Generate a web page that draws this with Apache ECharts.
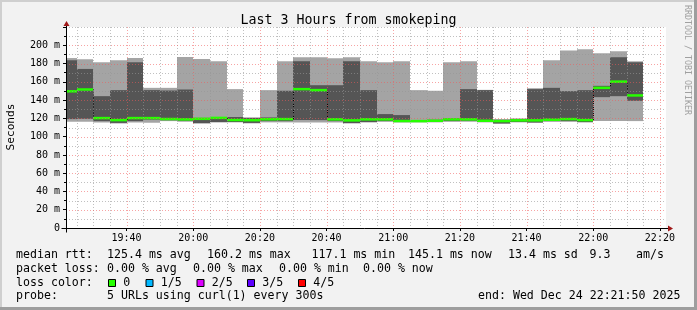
<!DOCTYPE html>
<html>
<head>
<meta charset="utf-8">
<script src="https://cdn.jsdelivr.net/npm/echarts@6.0.0/dist/echarts.min.js"></script>
<style>
html,body{margin:0;padding:0;background:#f2f2f2;}
#chart{width:697px;height:310px;}
</style>
</head>
<body>
<div id="chart"></div>
<script>
// ---------------- data ----------------
const titleText = 'Last 3 Hours from smokeping';
const yAxisName = 'Seconds';
const graphStart = '19:21:50';
const graphEnd = '22:21:50';
const stepMinutes = 5;
// end time of each 5-minute step
const stepEnd = ['19:25','19:30','19:35','19:40','19:45','19:50','19:55','20:00','20:05','20:10',
  '20:15','20:20','20:25','20:30','20:35','20:40','20:45','20:50','20:55','21:00',
  '21:05','21:10','21:15','21:20','21:25','21:30','21:35','21:40','21:45','21:50',
  '21:55','22:00','22:05','22:10','22:15'];
// sorted ping values (ms) per step: lowest, 2nd, median, 4th, highest
const pingMin = [116.3,116.3,115.5,114.3,115.6,115.2,117.0,116.3,114.5,115.6,
  115.6,114.5,115.6,115.6,115.6,115.6,115.6,114.5,115.6,116.3,
  115.6,115.6,115.6,116.3,116.3,115.6,114.0,115.6,115.0,116.3,
  116.3,115.6,117.0,117.0,117.0];
const ping2 = [119.2,119.5,117.0,115.0,117.0,118.6,118.0,117.4,114.8,116.0,
  116.0,115.0,117.0,117.0,118.1,118.1,117.0,114.8,116.0,117.0,
  116.0,116.0,116.0,117.0,117.4,116.0,114.5,116.0,115.6,117.0,
  117.0,116.0,143.2,144.3,139.2];
const median = [149.6,151.6,120.3,118.1,120.3,120.3,119.3,118.9,119.5,120.5,
  118.2,118.0,119.0,119.2,152.0,150.9,118.9,117.8,118.9,118.9,
  117.1,117.0,117.4,118.9,118.9,117.4,117.0,117.8,117.8,118.5,
  119.2,118.1,153.4,160.2,145.1];
const ping4 = [183.6,174.1,144.3,150.9,181.4,150.9,150.5,151.6,120.5,121.5,
  121.5,120.5,121.0,150.2,182.5,156.3,156.3,182.5,150.9,124.7,
  123.6,118.0,118.5,120.0,152.0,150.9,118.5,119.0,152.0,153.4,
  149.8,150.9,155.6,186.9,181.4];
const pingMax = [186.0,184.7,181.4,183.6,186.1,153.4,153.4,187.2,185.0,182.5,
  152.0,121.0,150.9,182.5,186.9,186.9,185.8,186.9,182.5,181.4,
  182.5,150.9,150.2,181.4,182.5,151.2,119.0,120.0,153.0,183.6,
  194.4,195.6,191.2,193.4,182.5];
// axis ticks
const xMajorTicks = ['19:40','20:00','20:20','20:40','21:00','21:20','21:40','22:00','22:20'];
const yMax = 220;
const yMajorTicks = [20,40,60,80,100,120,140,160,180,200];
const yMinorTicks = [10,30,50,70,90,110,130,150,170,190,210,220];
// legend texts
const legendRtt = [['median rtt:',16],['125.4 ms avg',107],['160.2 ms max',207],['117.1 ms min',311.5],['145.1 ms now',408],['13.4 ms sd',508],['9.3',589.5],['am/s',636]];
const legendLoss = [['packet loss:',16],['0.00 % avg',107],['0.00 % max',193],['0.00 % min',279],['0.00 % now',363]];
const lossLabels = ['0','1/5','2/5','3/5','4/5'];
const lossColors = ['#26ff00','#00b8ff','#dd00ff','#5e00ff','#ff0000'];
const lossBoxX = [108.5,146,197,247.5,298.5];
const probeText = '5 URLs using curl(1) every 300s';
const endText = 'end: Wed Dec 24 22:21:50 2025';

// ---------------- helpers ----------------
function toMin(s){const p=s.split(':').map(Number);return p[0]*60+p[1]+(p[2]||0)/60;}
function fmt(v){const h=Math.floor(v/60+1e-9);const m=Math.round(v-h*60);return (h<10?'0':'')+h+':'+(m<10?'0':'')+m;}
const xStart = toMin(graphStart), xEnd = toMin(graphEnd);
const MONO = 'DejaVu Sans Mono';
const colLight = '#a4a4a4', colDark = '#555555';

const smokeData = stepEnd.map((t,i)=>[toMin(t),pingMin[i],ping2[i],median[i],ping4[i],pingMax[i]]);

// grid lines data
const xMajorVals = xMajorTicks.map(toMin);
const xGridData = [];
for (let t = Math.ceil(xStart/stepMinutes)*stepMinutes; t < xEnd; t += stepMinutes) {
  xGridData.push([t, xMajorVals.some(v=>Math.abs(v-t)<1e-6) ? 1 : 0]);
}
const yGridData = yMajorTicks.map(v=>[xStart,v,1]).concat(yMinorTicks.map(v=>[xStart,v,0]));

const gridMinor = 'rgba(150,150,150,0.6)';
const gridMajor = 'rgba(240,90,90,0.55)';

const chart = echarts.init(document.getElementById('chart'), null, {renderer:'canvas'});

function snap(v){return Math.round(v);}

const option = {
  backgroundColor: '#f2f2f2',
  animation: false,
  title: {
    text: titleText, left: 'center', top: 9,
    textStyle: {fontFamily: MONO, fontSize: 13.3, fontWeight: 'normal', color: '#000'}
  },
  grid: {left: 66, top: 27, width: 600, bottom: 82, containLabel: false, backgroundColor: '#fff', show: true, borderWidth: 0},
  xAxis: {
    type: 'value', min: xStart, max: xEnd,
    axisLine: {show: false},
    splitLine: {show: false},
    axisTick: {show: true, customValues: xMajorVals, length: 3, lineStyle: {color: '#000'}},
    axisLabel: {customValues: xMajorVals, formatter: fmt, fontFamily: MONO, fontSize: 10, color: '#000', margin: 5}
  },
  yAxis: {
    type: 'value', min: 0, max: yMax, interval: 20,
    axisLine: {show: false},
    splitLine: {show: false},
    axisTick: {show: true, length: 3, lineStyle: {color: '#000'}},
    minorTick: {show: true, splitNumber: 2, length: 2, lineStyle: {color: '#000'}},
    axisLabel: {fontFamily: MONO, fontSize: 10, color: '#000', margin: 6,
      formatter: v => v === 0 ? '0' : (v >= yMax ? '' : v + ' m')}
  },
  series: [
    {
      type: 'custom', name: 'smoke', z: 2, clip: true,
      data: smokeData,
      encode: {x: 0, y: [1,2,3,4,5]},
      renderItem: function(params, api){
        const i = params.dataIndex;
        const tEnd = api.value(0);
        const tStart = Math.max(tEnd - stepMinutes, xStart);
        const x0 = snap(api.coord([tStart, 0])[0]);
        const x1 = snap(api.coord([tEnd, 0])[0]);
        const yv = k => api.coord([tEnd, api.value(k)])[1];
        const y1 = yv(1), y2 = yv(2), ym = yv(3), y4 = yv(4), y5 = yv(5);
        const children = [
          {type:'rect', shape:{x:x0, y:y5, width:x1-x0, height:y1-y5}, style:{fill:colLight}},
          {type:'rect', shape:{x:x0, y:y4, width:x1-x0, height:y2-y4}, style:{fill:colDark}}
        ];
        if (i > 0) {
          const yp = api.coord([tStart, median[i-1]])[1];
          if (Math.abs(yp-ym) > 2) {
            children.push({type:'line', shape:{x1:x0+0.5, y1:yp, x2:x0+0.5, y2:ym},
              style:{stroke:'#000', lineWidth:1, lineDash:[1,1]}});
          }
        }
        children.push({type:'rect', shape:{x:x0, y:ym-1.25, width:x1-x0, height:2.5}, style:{fill:lossColors[0]}});
        return {type:'group', children};
      }
    },
    {
      type: 'custom', name: 'xgrid', z: 5, silent: true,
      data: xGridData,
      encode: {x: 0},
      renderItem: function(params, api){
        const t = api.value(0);
        const top = api.coord([t, yMax]);
        const bot = api.coord([t, 0]);
        const x = Math.round(top[0]) + 0.5;
        return {type:'line', shape:{x1:x, y1:top[1], x2:x, y2:bot[1]},
          style:{stroke: api.value(1) ? gridMajor : gridMinor, lineWidth:1, lineDash:[1,2]}};
      }
    },
    {
      type: 'custom', name: 'ygrid', z: 5, silent: true,
      data: yGridData,
      encode: {x: 0, y: 1},
      renderItem: function(params, api){
        const v = api.value(1);
        const l = api.coord([xStart, v]);
        const r = api.coord([xEnd, v]);
        const y = Math.round(l[1]) + 0.5;
        return {type:'line', shape:{x1:l[0], y1:y, x2:r[0], y2:y},
          style:{stroke: api.value(2) ? gridMajor : gridMinor, lineWidth:1, lineDash:[1,2]}};
      }
    }
  ],
  graphic: []
};

chart.setOption(option);

// ---------- frame, axes, legends (layout) ----------
const g = [];
const ax0 = chart.convertToPixel({gridIndex:0}, [xStart, 0]);
const ax1 = chart.convertToPixel({gridIndex:0}, [xEnd, yMax]);
const axX = Math.round(ax0[0]) + 0.5;
const axY = Math.round(ax0[1]) + 0.5;
// frame
g.push({type:'rect', shape:{x:0,y:0,width:697,height:2}, style:{fill:'#cfcfcf'}, z:100});
g.push({type:'rect', shape:{x:0,y:0,width:2,height:310}, style:{fill:'#cfcfcf'}, z:100});
g.push({type:'rect', shape:{x:0,y:307,width:697,height:3}, style:{fill:'#9e9e9e'}, z:101});
g.push({type:'rect', shape:{x:694,y:0,width:3,height:310}, style:{fill:'#9e9e9e'}, z:101});
// axes
g.push({type:'line', shape:{x1:axX-5, y1:axY, x2:ax1[0]+2, y2:axY}, style:{stroke:'#000', lineWidth:1}, z:50});
g.push({type:'line', shape:{x1:axX, y1:axY+4, x2:axX, y2:ax1[1]-1}, style:{stroke:'#000', lineWidth:1}, z:50});
g.push({type:'polygon', shape:{points:[[axX, ax1[1]-6],[axX-3, ax1[1]-1],[axX+3, ax1[1]-1]]}, style:{fill:'#a01818'}, z:51});
g.push({type:'polygon', shape:{points:[[ax1[0]+7, axY],[ax1[0]+2, axY-3],[ax1[0]+2, axY+3]]}, style:{fill:'#a01818'}, z:51});
// y axis name
g.push({type:'text', x:11, y:127, rotation:Math.PI/2, style:{text:yAxisName, font:'11.2px "'+MONO+'"', fill:'#000', align:'center', verticalAlign:'middle'}, z:50});
// watermark
g.push({type:'text', x:687, y:60, rotation:-Math.PI/2, style:{text:'RRDTOOL / TOBI OETIKER', font:'8.3px "'+MONO+'"', fill:'#a0a0a0', align:'center', verticalAlign:'middle'}, z:50});
const LF = '11.6px "'+MONO+'"';
function txt(s,x,y){g.push({type:'text', x:x, y:y, style:{text:s, font:LF, fill:'#000', align:'left', verticalAlign:'middle'}, z:50});}
legendRtt.forEach(([s,x])=>txt(s,x,255));
legendLoss.forEach(([s,x])=>txt(s,x,268.5));
txt('loss color:',16,282.5);
lossLabels.forEach((s,i)=>{
  g.push({type:'rect', shape:{x:lossBoxX[i], y:279.5, width:7, height:7}, style:{fill:lossColors[i], stroke:'#000', lineWidth:1}, z:50});
  txt(s, lossBoxX[i]+14.8, 282.5);
});
txt('probe:',16,296);
txt(probeText,107,296);
txt(endText,478,296);
chart.setOption({graphic: g});
</script>
</body>
</html>
